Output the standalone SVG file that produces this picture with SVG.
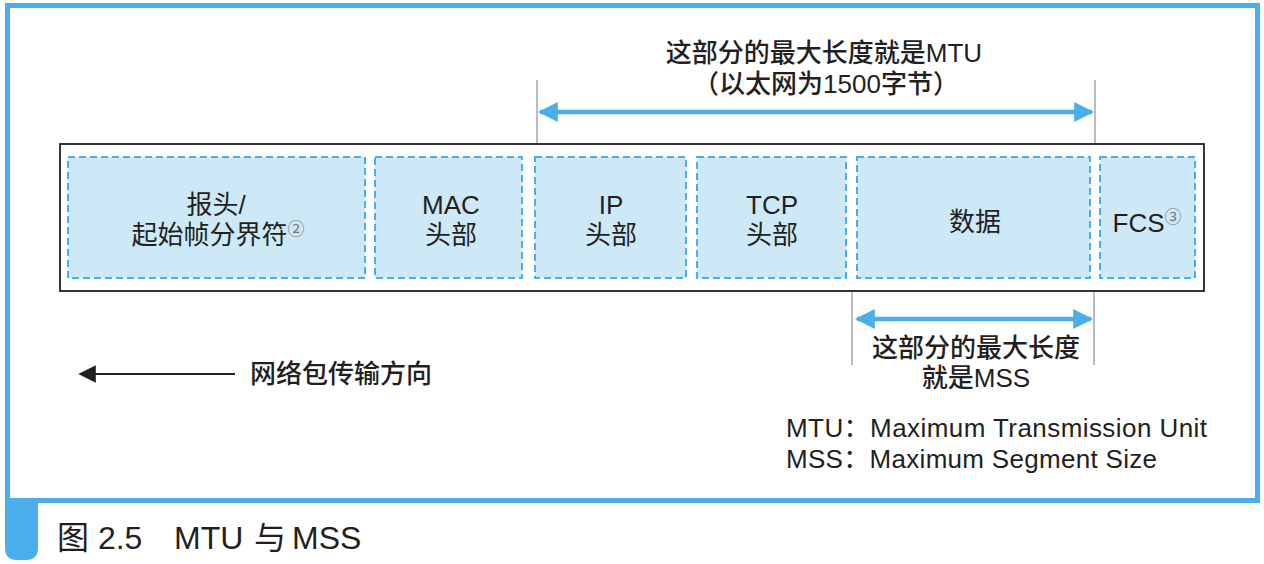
<svg xmlns="http://www.w3.org/2000/svg" width="1264" height="564" viewBox="0 0 1264 564">
<defs>
<style>
.t{font-family:'Liberation Sans','Noto Sans CJK SC',sans-serif;fill:#231f20}
.lbl{font-size:26px;text-anchor:middle}
.ann{font-size:26px;font-weight:500;text-anchor:middle}
.leg{font-size:26px}
.sup{font-size:17px;fill:#777}
.box{fill:#cde8f6;stroke:#4aaeea;stroke-width:2;stroke-dasharray:7,4}
.guide{stroke:#bbbbbf;stroke-width:2}
.dim{stroke:#4aaeea;stroke-width:4.5}
</style>
<marker id="ab" viewBox="0 0 10 10" refX="9" refY="5" markerWidth="4.4" markerHeight="4.4" orient="auto-start-reverse" markerUnits="strokeWidth">
<path d="M0,0 L10,5 L0,10 Z" fill="#4aaeea"/>
</marker>
<marker id="ak" viewBox="0 0 10 10" refX="9" refY="5" markerWidth="8" markerHeight="8" orient="auto-start-reverse" markerUnits="strokeWidth">
<path d="M0,0 L10,5 L0,10 Z" fill="#231f20"/>
</marker>
</defs>
<rect x="0" y="0" width="1264" height="564" fill="#fff"/>
<g id="frame">
<rect x="7.5" y="5.5" width="1250" height="495" fill="none" stroke="#4aaeea" stroke-width="5"/>
<path d="M5,498 H38 V548 Q38,560 26,560 H17 Q5,560 5,548 Z" fill="#4aaeea"/>
<text class="t" x="57" y="549" font-size="32">图 2.5<tspan x="174">MTU</tspan><tspan x="254">与</tspan><tspan x="292">MSS</tspan></text>
</g>
<g id="packet">
<rect x="60" y="144" width="1144" height="147" fill="#fff" stroke="#231f20" stroke-width="1.8"/>
</g>
<g id="n-preamble">
<rect class="box" x="68" y="157" width="297" height="121"/>
<text class="t lbl" x="216" y="214">报头/</text>
<text class="t lbl" x="218" y="244">起始帧分界符<tspan class="sup" dy="-9">②</tspan></text>
</g>
<g id="n-mac">
<rect class="box" x="375" y="157" width="147" height="121"/>
<text class="t lbl" x="451" y="214">MAC</text>
<text class="t lbl" x="451" y="244">头部</text>
</g>
<g id="n-ip">
<rect class="box" x="535" y="157" width="151" height="121"/>
<text class="t lbl" x="611" y="214">IP</text>
<text class="t lbl" x="611" y="244">头部</text>
</g>
<g id="n-tcp">
<rect class="box" x="697" y="157" width="149" height="121"/>
<text class="t lbl" x="772" y="214">TCP</text>
<text class="t lbl" x="772" y="244">头部</text>
</g>
<g id="n-data">
<rect class="box" x="857" y="157" width="233" height="121"/>
<text class="t lbl" x="975" y="231">数据</text>
</g>
<g id="n-fcs">
<rect class="box" x="1100" y="157" width="95" height="121"/>
<text class="t lbl" x="1147" y="232">FCS<tspan class="sup" dy="-9">③</tspan></text>
</g>
<g id="connectors">
<line class="guide" x1="537" y1="80" x2="537" y2="143"/>
<line class="guide" x1="1095" y1="80" x2="1095" y2="143"/>
<line class="dim" x1="540" y1="112" x2="1092" y2="112" marker-start="url(#ab)" marker-end="url(#ab)"/>
<line class="guide" x1="852" y1="292" x2="852" y2="365"/>
<line class="guide" x1="1094" y1="292" x2="1094" y2="365"/>
<line class="dim" x1="857" y1="319" x2="1091" y2="319" marker-start="url(#ab)" marker-end="url(#ab)"/>
<line x1="80" y1="374" x2="235" y2="374" stroke="#231f20" stroke-width="2.2" marker-start="url(#ak)"/>
</g>
<g id="labels">
<text class="t ann" x="824" y="62">这部分的最大长度就是MTU</text>
<text class="t ann" x="826" y="93">（以太网为1500字节）</text>
<text class="t ann" x="976" y="357">这部分的最大长度</text>
<text class="t ann" x="976" y="387">就是MSS</text>
<text class="t" x="250" y="383" font-size="26" font-weight="500">网络包传输方向</text>
<text class="t leg" x="786" y="437" textLength="421">MTU：Maximum Transmission Unit</text>
<text class="t leg" x="786" y="468" textLength="371">MSS：Maximum Segment Size</text>
</g>
</svg>
